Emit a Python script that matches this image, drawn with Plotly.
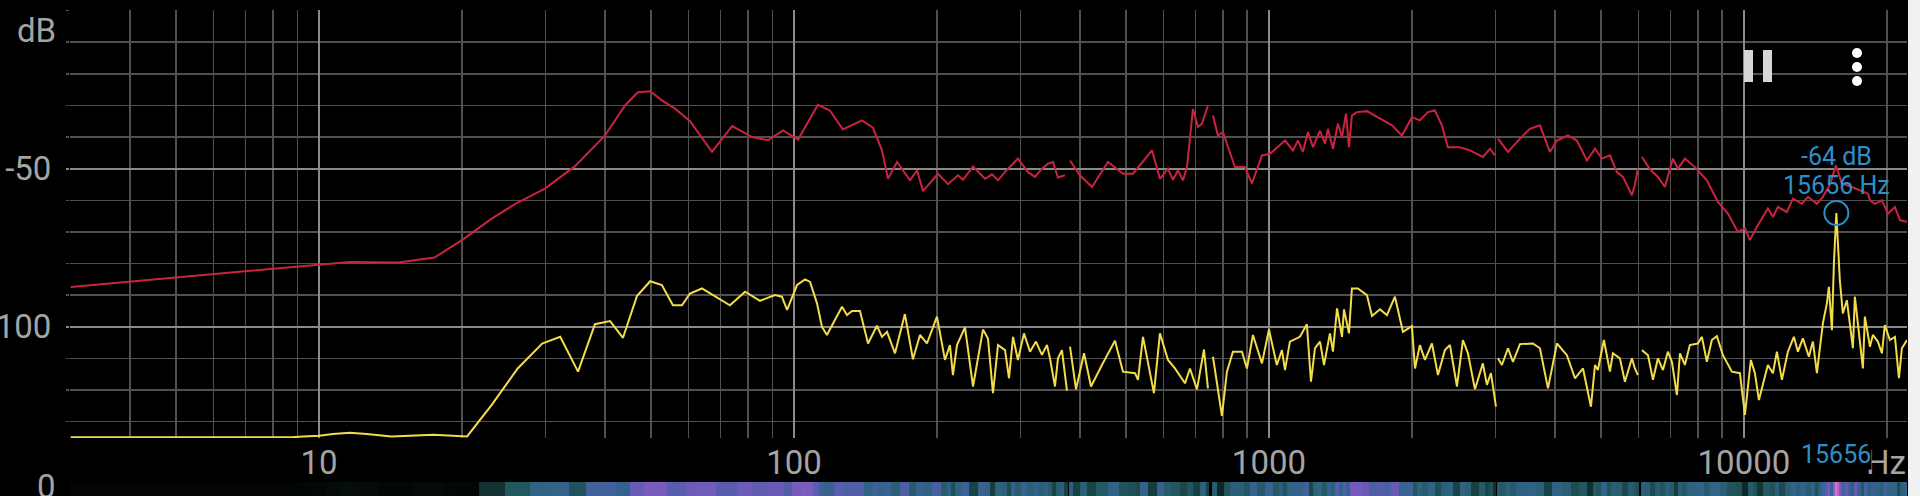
import math
import plotly.graph_objects as go

# ---------------- data ----------------
# Peak-hold spectrum (red), frequency in Hz, level in dB (None = gap)
red_hz = [
    3.0, 10, 11.6, 14.7, 17.5, 20.0, 23.1, 26.2, 29.9, 34.6,
    40.0, 44.1, 46.9, 49.8, 52.7, 56.2, 60.4, 67.2, 74.1, 81.6,
    88.2, 94.8, 99.5, 102, 112.3, 119, 126.8, 139, 146.6, 153.2,
    157.7, 164.8, 175.5, 181.6, 186.9, 201, 211, 221.4, 226.9, 238.2,
    252.5, 261.2, 268.9, 278.2, 296.1, 310.9, 321.6, 332.7, 342.5, 351,
    359.6, 372, 377, 381.2, 400, 424, 458.3, 492.7, 517.3, 567.1,
    589.5, 613, 628, 643.4, 659.1, 672.1, 691.8, 708.8, 722.7, 744,
    753, 762.3, 780.9, 800.1, 848, 890.3, 921, 966.7, 1005, 1081,
    1123, 1151, 1179, 1208, 1238, 1281, 1312, 1331, 1364, 1397,
    1425, 1453, 1474, 1495, 1532, 1608, 1696, 1815, 1905, 2000,
    2079, 2161, 2236, 2313, 2381, 2524, 2650, 2821, 2919, 2991,
    3020, 3035, 3186, 3377, 3544, 3720, 3905, 4040, 4261, 4450,
    4672, 4858, 5025, 5223, 5403, 5563, 5810, 5895, 5982, 6040,
    6100, 6341, 6592, 6818, 7088, 7262, 7512, 7886, 8357, 8817,
    9255, 9714, 10050, 10294, 10651, 10807, 11233, 11510, 11792, 12317,
    12682, 13247, 13637, 14247, 14667, 15175, 15622, 16082, 16881, 18245,
    18423, 18874, 19524, 20105, 20797, 21306, 22050,
]
red_db = [
    -87.4, -80.3, -79.5, -79.7, -78.1, -72.6, -65.8, -60.7, -56.3, -49.2,
    -39.5, -30.0, -25.8, -25.5, -28.4, -31.0, -35.0, -44.7, -36.5, -40.0,
    -41.0, -37.9, -40.0, -40.8, -29.8, -31.6, -37.6, -34.7, -37.0, -44.2,
    -53.2, -47.9, -53.7, -50.5, -57.1, -51.6, -54.9, -52.1, -53.5, -49.3,
    -53.2, -51.8, -53.7, -51.0, -46.8, -51.1, -52.6, -50.0, -48.4, -47.9,
    -52.8, -52.1, None, -47.4, -52.1, -55.8, -47.9, -51.6, -51.6, -44.2,
    -53.2, -50.0, -53.5, -50.5, -53.7, -49.5, -31.1, -36.8, -35.8, -30.0,
    None, -33.2, -39.5, -38.4, -49.5, -49.5, -54.7, -45.8, -45.3, -41.1,
    -44.2, -41.1, -44.7, -38.4, -43.2, -38.0, -42.1, -37.4, -43.7, -35.8,
    -40.0, -32.6, -43.2, -33.2, -32.1, -31.8, -33.7, -36.3, -39.5, -33.7,
    -34.7, -32.1, -31.6, -36.3, -43.2, -43.2, -44.2, -46.3, -43.7, -45.8,
    None, -40.5, -44.7, -40.5, -37.4, -36.3, -44.7, -41.1, -39.5, -41.1,
    -47.4, -43.7, -46.8, -45.8, -51.1, -52.6, -58.4, -55.0, -50.0, None,
    -46.3, -50.2, -52.6, -55.8, -46.8, -50.0, -46.8, -49.5, -53.7, -60.5,
    -64.2, -70.0, -68.9, -72.6, -68.4, -66.8, -62.6, -65.3, -62.1, -63.7,
    -59.5, -61.1, -58.9, -61.1, -58.9, -55.0, -49.0, -54.7, -55.8, -57.9,
    -60.0, -61.1, -60.0, -64.2, -62.1, -66.3, -66.8,
]

# Current spectrum (yellow)
yellow_hz = [
    3.0, 8.77, 9.25, 10, 10.7, 11.6, 12.6, 14.2, 17.4, 19.3,
    20.5, 23.1, 26.2, 29.5, 32.2, 35.1, 38.1, 41.0, 43.65, 46.7,
    49.8, 52.7, 55.6, 58.1, 60.4, 64.0, 73.3, 78.9, 84.8, 91.2,
    94.3, 96.7, 101.5, 105.5, 108.1, 111.8, 114.5, 117.3, 126.2, 129.3,
    132.5, 137.7, 143.2, 149.5, 153.2, 157, 163.2, 171.2, 178, 184.2,
    190.5, 200, 207.9, 213, 216.1, 220.4, 229.1, 238.2, 250, 256.1,
    262.4, 268.9, 278.2, 283.6, 289.2, 296.1, 305, 314, 323.2, 332.7,
    340.9, 345.9, 354.4, 359.6, 366.6, 375.6, 378, 381.2, 392.5, 408,
    422.1, 445, 474.1, 492.7, 522.4, 530, 543, 572.6, 589.5, 613,
    634.1, 665.6, 681.9, 705.4, 729.8, 744, 753, 762.3, 796.2, 815.7,
    839.8, 877.3, 898.8, 925.4, 966.7, 1000, 1039, 1065, 1081, 1107,
    1162, 1202, 1226, 1250, 1281, 1306, 1344, 1364, 1391, 1425,
    1439, 1474, 1495, 1539, 1608, 1648, 1713, 1772, 1842, 1915,
    2000, 2030, 2079, 2130, 2204, 2269, 2347, 2405, 2488, 2561,
    2624, 2715, 2821, 2877, 2934, 3006, 3020, 3035, 3094, 3186,
    3264, 3377, 3596, 3720, 3868, 4040, 4240, 4409, 4584, 4764,
    4858, 4927, 5073, 5223, 5299, 5482, 5617, 5810, 5895, 5982,
    6040, 6100, 6282, 6435, 6592, 6754, 6918, 7054, 7227, 7334,
    7512, 7695, 8000, 8157, 8357, 8561, 8772, 9033, 9434, 9808,
    10050, 10344, 10548, 10755, 11233, 11510, 11735, 12023, 12377, 12742,
    12992, 13311, 13703, 13973, 14247, 14454, 14667, 14953, 15100, 15322,
    15470, 15656, 15768, 15922, 16155, 16471, 16712, 16963, 17126, 17462,
    17804, 17977, 18423, 18687, 19145, 19524, 19805, 20294, 20797, 21203,
    21513, 22050,
]
yellow_db = [
    -135.0, -135.0, -134.7, -134.5, -133.9, -133.5, -133.9, -134.7, -134.2, -134.5,
    -134.7, -124.7, -113.2, -105.3, -103.2, -114.2, -99.2, -98.2, -103.5, -90.3,
    -85.6, -86.8, -93.2, -93.2, -89.5, -87.9, -93.2, -88.9, -91.8, -90.0,
    -90.5, -94.7, -86.8, -85.0, -85.8, -92.6, -100.0, -102.6, -93.7, -96.3,
    -95.0, -95.0, -105.3, -99.7, -103.2, -101.6, -108.4, -96.0, -110.3, -102.6,
    -105.3, -96.8, -110.5, -105.8, -115.3, -105.8, -100.2, -118.9, -100.9, -103.7,
    -121.0, -105.8, -107.4, -116.3, -103.2, -110.5, -102.1, -107.9, -104.7, -108.9,
    -105.8, -110.0, -118.9, -110.0, -107.4, -120.2, None, -106.3, -119.8, -108.4,
    -118.9, -112.1, -104.4, -114.2, -114.7, -116.8, -103.2, -121.0, -102.1, -110.5,
    -113.2, -117.9, -113.2, -119.8, -107.2, -119.5, None, -109.5, -128.2, -114.2,
    -107.9, -107.9, -113.2, -102.6, -111.6, -100.9, -112.1, -107.4, -113.7, -104.7,
    -103.2, -99.2, -117.4, -106.8, -104.7, -112.1, -102.1, -107.9, -94.2, -103.2,
    -94.5, -102.1, -87.9, -87.9, -90.0, -96.6, -94.5, -96.3, -90.5, -101.6,
    -99.8, -113.2, -105.8, -110.5, -105.3, -115.3, -107.4, -105.8, -118.9, -104.2,
    -108.4, -119.8, -111.6, -118.4, -114.7, -125.3, None, -110.0, -112.1, -106.8,
    -111.1, -105.5, -105.3, -106.8, -119.5, -105.3, -109.0, -116.3, -113.2, -125.3,
    -112.1, -113.7, -104.2, -114.2, -108.4, -110.0, -117.4, -110.0, -113.2, -115.3,
    None, -107.4, -109.0, -116.8, -110.0, -113.7, -107.9, -111.1, -121.6, -108.4,
    -112.1, -105.8, -105.3, -103.2, -111.1, -104.2, -103.0, -109.0, -114.2, -114.7,
    -127.9, -110.5, -114.7, -123.2, -112.1, -114.7, -107.9, -116.8, -107.9, -103.2,
    -107.9, -103.7, -109.5, -104.7, -114.7, -106.8, -98.9, -92.6, -87.4, -101.1,
    -80.0, -64.0, -72.6, -85.3, -95.8, -91.6, -99.0, -106.8, -90.5, -102.1,
    -113.2, -96.8, -106.3, -102.6, -104.7, -108.4, -99.5, -104.2, -103.2, -116.3,
    -106.8, -104.2,
]

# Peak marker
marker_hz = 15656
marker_db = -64

# Axis labels
x_tick_hz = [10, 100, 1000, 10000]
x_tick_text = ["10", "100", "1000", "10000"]
y_tick_db = [-50, -100]
y_tick_text = ["-50", "-100"]

assert len(red_hz) == len(red_db)
assert len(yellow_hz) == len(yellow_db)

# ---------------- layout geometry ----------------
W, H = 1920, 496
ML, MR, MT = 70, 13, 10
PW = W - ML - MR
PH = H - MT


def px(x):
    return (x - ML) / PW


def py(y):
    return (H - y) / PH


FONT = "Roboto"
GRID_MINOR = "#505050"
GRID_MAJOR = "#8a8a8a"
LABEL = "#a4a4a4"
BLUE = "#2e8ec8"
RED = "#c8243f"
YELLOW = "#f2dc4a"

x_range = [math.log10(2.99), math.log10(22050)]
y_range = [-135.2, 0.2]
minor_hz = [m * 10 ** e for e in range(0, 5) for m in range(2, 10)
            if 3 <= m * 10 ** e <= 22000]

fig = go.Figure()

# spectrogram strip (latest row of the spectrum)
fig.add_trace(go.Heatmap(
    x=yellow_hz, y=[0], z=[yellow_db], xaxis="x2", yaxis="y2",
    zmin=-135, zmax=-60, showscale=False, hoverinfo="skip",
    colorscale=[[0, "#020504"], [0.067, "#0a2220"], [0.2, "#17403f"],
                [0.307, "#245a66"], [0.4, "#2f6384"], [0.493, "#43609e"],
                [0.6, "#6a5ab8"], [0.733, "#905ec6"], [0.947, "#e070d0"],
                [1, "#f080d8"]],
))

fig.add_trace(go.Scatter(
    x=red_hz, y=red_db, mode="lines", connectgaps=False,
    line=dict(color=RED, width=2), hoverinfo="skip",
))
fig.add_trace(go.Scatter(
    x=yellow_hz, y=yellow_db, mode="lines", connectgaps=False,
    line=dict(color=YELLOW, width=2), hoverinfo="skip",
))
fig.add_trace(go.Scatter(
    x=[marker_hz], y=[marker_db], mode="markers", hoverinfo="skip",
    marker=dict(symbol="circle-open", size=24, color=BLUE,
                line=dict(color=BLUE, width=2)),
))

annotations = [
    dict(text="dB", xref="paper", yref="paper", x=px(58), y=py(31),
         xanchor="right", yanchor="middle", showarrow=False,
         font=dict(family=FONT, size=33, color=LABEL)),
    dict(text="0", xref="paper", yref="paper", x=px(58), y=py(486),
         xanchor="right", yanchor="middle", showarrow=False,
         font=dict(family=FONT, size=33, color=LABEL)),
    dict(text="Hz", xref="paper", yref="paper", x=px(1908), y=py(462),
         xanchor="right", yanchor="middle", showarrow=False,
         font=dict(family=FONT, size=33, color=LABEL)),
    dict(text=str(marker_hz), xref="x", yref="paper", x=math.log10(marker_hz),
         y=py(454), xanchor="center", yanchor="middle", showarrow=False,
         bgcolor="#000000", borderpad=0,
         font=dict(family=FONT, size=25, color=BLUE)),
    dict(text=f"{marker_db} dB", xref="x", yref="y", x=math.log10(marker_hz),
         y=marker_db, yshift=56, xanchor="center", yanchor="middle",
         showarrow=False, font=dict(family=FONT, size=25, color=BLUE)),
    dict(text=f"{marker_hz} Hz", xref="x", yref="y", x=math.log10(marker_hz),
         y=marker_db, yshift=27, xanchor="center", yanchor="middle",
         showarrow=False, font=dict(family=FONT, size=25, color=BLUE)),
]

shapes = [
    # light strip at the right edge
    dict(type="rect", xref="paper", yref="paper", x0=px(1908), x1=px(1922),
         y0=py(498), y1=py(-2), fillcolor="#f1f1f1", line_width=0, layer="above"),
    # pause icon
    dict(type="rect", xref="paper", yref="paper", x0=px(1744), x1=px(1753),
         y0=py(82), y1=py(50), fillcolor="#d6d6d6", line_width=0, layer="above"),
    dict(type="rect", xref="paper", yref="paper", x0=px(1763), x1=px(1772),
         y0=py(82), y1=py(50), fillcolor="#d6d6d6", line_width=0, layer="above"),
]
for cy in (53, 67, 81):
    shapes.append(dict(type="circle", xref="paper", yref="paper",
                       x0=px(1852), x1=px(1862), y0=py(cy + 5), y1=py(cy - 5),
                       fillcolor="#ffffff", line_width=0, layer="above"))

fig.update_layout(
    width=W, height=H,
    margin=dict(l=ML, r=MR, t=MT, b=0, pad=0, autoexpand=False),
    paper_bgcolor="#000000", plot_bgcolor="#000000",
    showlegend=False,
    font=dict(family=FONT, color=LABEL),
    annotations=annotations,
    shapes=shapes,
    xaxis=dict(
        type="log", range=x_range, anchor="y", automargin=False,
        tickvals=x_tick_hz, ticktext=x_tick_text,
        tickfont=dict(family=FONT, size=33, color=LABEL),
        showgrid=True, gridcolor=GRID_MAJOR, gridwidth=2,
        ticks="", ticklabelstandoff=2,
        zeroline=False, showline=False,
        minor=dict(tickvals=minor_hz, showgrid=True, gridcolor=GRID_MINOR,
                   gridwidth=1.5, ticks=""),
    ),
    yaxis=dict(
        range=y_range, domain=[py(438), 1], anchor="x", automargin=False,
        tickvals=y_tick_db, ticktext=y_tick_text,
        tickfont=dict(family=FONT, size=33, color=LABEL),
        showgrid=True, gridcolor=GRID_MAJOR, gridwidth=2,
        ticks="outside", ticklen=3, tickcolor=GRID_MAJOR, tickwidth=2,
        ticklabelstandoff=8,
        zeroline=False, showline=False,
        minor=dict(tick0=0, dtick=10, showgrid=True, gridcolor=GRID_MINOR,
                   gridwidth=1.5, ticks="outside", ticklen=3,
                   tickcolor=GRID_MINOR, tickwidth=1.5),
    ),
    xaxis2=dict(type="log", range=x_range, anchor="y2", visible=False,
                automargin=False),
    yaxis2=dict(range=[-0.5, 0.5], domain=[0, py(482)], anchor="x2",
                visible=False, automargin=False),
)

fig.write_html(
    "out.html",
    config={"displayModeBar": False, "staticPlot": True},
    post_script="document.body.style.margin='0';"
                "document.body.style.overflow='hidden';"
                "document.body.style.background='#000';",
)
